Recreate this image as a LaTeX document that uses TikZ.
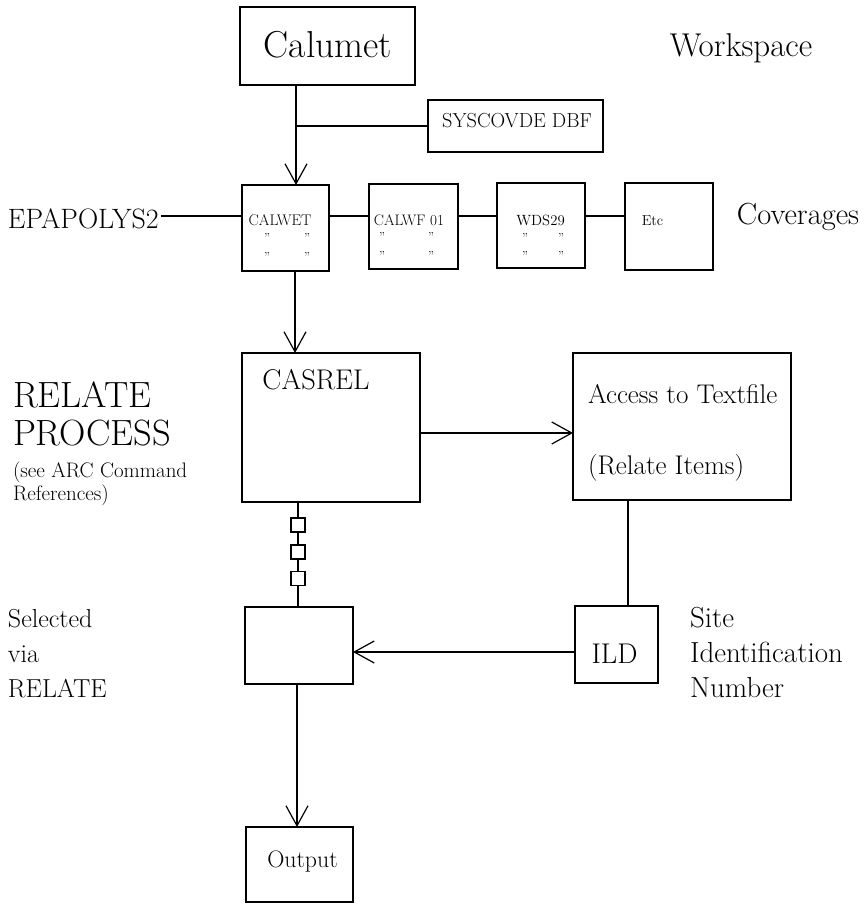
\documentclass[tikz,border=0pt]{standalone}
\usepackage{fontspec}
\usetikzlibrary{arrows.meta}
\newcommand\fsz[1]{\fontsize{#1}{#1}\selectfont}
\begin{document}
\begin{tikzpicture}[x=1pt,y=-1pt,
  box/.style={draw, line width=1.2pt, inner sep=0pt, outer sep=0pt},
  lbl/.style={inner sep=0pt, outer sep=0pt},
  conn/.style={line width=1.2pt},
  arr/.style={line width=1.2pt, -{Straight Barb[length=20pt,width=22pt,line width=1.2pt]}},
]
\useasboundingbox (0,0) rectangle (863,904);

% boxes
\node[box, minimum width=175pt, minimum height=78pt] (calumet) at (327.5,46) {};
\node[box, minimum width=175pt, minimum height=52pt] (syscov) at (515.5,126) {};
\node[box, minimum width=87pt, minimum height=86pt] (calwet) at (285.5,228) {};
\node[box, minimum width=89pt, minimum height=85pt] (calwf) at (413.5,226.5) {};
\node[box, minimum width=88pt, minimum height=85pt] (wds) at (541,225.5) {};
\node[box, minimum width=88pt, minimum height=87pt] (etc) at (669,226.5) {};
\node[box, minimum width=178pt, minimum height=149pt] (casrel) at (331,427.5) {};
\node[box, minimum width=218pt, minimum height=147pt] (access) at (682,426.5) {};
\node[box, minimum width=14pt, minimum height=14pt] (sq1) at (298,525) {};
\node[box, minimum width=14pt, minimum height=14pt] (sq2) at (298,552) {};
\node[box, minimum width=14pt, minimum height=14pt] (sq3) at (298,578.5) {};
\node[box, minimum width=108pt, minimum height=77pt] (selected) at (299,645.5) {};
\node[box, minimum width=83pt, minimum height=77pt] (ild) at (616.5,644.5) {};
\node[box, minimum width=107pt, minimum height=75pt] (output) at (299.5,864.5) {};

% texts
\node[lbl, anchor=base] (tcalumet) at (328,58) {\fsz{37.5pt}Calumet};
\node[lbl, anchor=base] (tworkspace) at (741,57) {\fsz{33pt}Workspace};
\node[lbl, anchor=base] (tsyscov) at (517,128) {\fsz{20.3pt}SYSCOVDE DBF};
\node[lbl, anchor=base west] (epa) at (8,228) {\fsz{28pt}EPAPOLYS2};
\node[lbl, anchor=base] (tcalwet) at (280,225) {\fsz{15.4pt}CALWET};
\node[lbl, anchor=base] (tcalwf) at (409,225) {\fsz{15.2pt}CALWF 01};
\node[lbl, anchor=base] (twds) at (540.5,225) {\fsz{14.8pt}WDS29};
\node[lbl, anchor=base] (tetc) at (652.5,225) {\fsz{14.5pt}Etc};
\node[lbl, anchor=base] (tcov) at (798,224) {\fsz{30.5pt}Coverages};

% ditto marks
\foreach \dx/\dy [count=\i] in {267/242,307/242,267/261,307/261,
                                382/241,431/241,382/260,431/260,
                                525/242,561/242,525/260,561/260}
  \node[lbl, anchor=base] (ditto\i) at (\dx,\dy) {\fsz{13pt}''};

\node[lbl, anchor=base west] (trelate) at (13,407) {\fsz{36.5pt}RELATE};
\node[lbl, anchor=base west] (tprocess) at (13,445) {\fsz{36.5pt}PROCESS};
\node[lbl, anchor=base west] (tsee) at (13,477) {\fsz{21pt}(see ARC Command};
\node[lbl, anchor=base west] (tref) at (13,500) {\fsz{21pt}References)};

\node[lbl, anchor=base] (tcasrel) at (316,389) {\fsz{28.5pt}CASREL};
\node[lbl, anchor=base west] (taccess) at (588,403) {\fsz{27pt}Access to Textfile};
\node[lbl, anchor=base west] (titems) at (588,474) {\fsz{27pt}(Relate Items)};

\node[lbl, anchor=base west] (tsel) at (8,627) {\fsz{26pt}Selected};
\node[lbl, anchor=base west] (tvia) at (8,662) {\fsz{26pt}via};
\node[lbl, anchor=base west] (trel2) at (8,697) {\fsz{26pt}RELATE};

\node[lbl, anchor=base] (tild) at (614.5,663) {\fsz{28.5pt}ILD};
\node[lbl, anchor=base west] (tsite) at (690,627) {\fsz{29pt}Site};
\node[lbl, anchor=base west] (tident) at (690,662) {\fsz{29pt}Identification};
\node[lbl, anchor=base west] (tnum) at (690,697) {\fsz{29pt}Number};

\node[lbl, anchor=base] (toutput) at (302.5,867) {\fsz{23.8pt}Output};

% connectors
\coordinate (c1) at (296,0);
\coordinate (br) at (296,126);
\coordinate (row) at (0,216);
\coordinate (c2) at (295,0);
\coordinate (r2) at (0,433);
\coordinate (c3) at (628,0);
\coordinate (r3) at (0,652);
\coordinate (c4) at (297,0);

\draw[arr] (calumet.south -| c1) -- (calwet.north -| c1);
\draw[conn] (br) -- (syscov.west |- br);
\draw[conn] ([xshift=2pt]epa.east |- row) -- (calwet.west |- row);
\draw[conn] (calwet.east |- row) -- (calwf.west |- row);
\draw[conn] (calwf.east |- row) -- (wds.west |- row);
\draw[conn] (wds.east |- row) -- (etc.west |- row);
\draw[arr] (calwet.south -| c2) -- (casrel.north -| c2);
\draw[arr] (casrel.east |- r2) -- (access.west |- r2);
\draw[conn] (access.south -| c3) -- (ild.north -| c3);
\draw[arr] (ild.west |- r3) -- (selected.east |- r3);
\draw[conn] (casrel.south -| sq1.north) -- (sq1.north);
\draw[conn] (sq1.south) -- (sq2.north);
\draw[conn] (sq2.south) -- (sq3.north);
\draw[conn] (sq3.south) -- (selected.north -| sq3.south);
\draw[arr] (selected.south -| c4) -- (output.north -| c4);
\end{tikzpicture}
\end{document}
